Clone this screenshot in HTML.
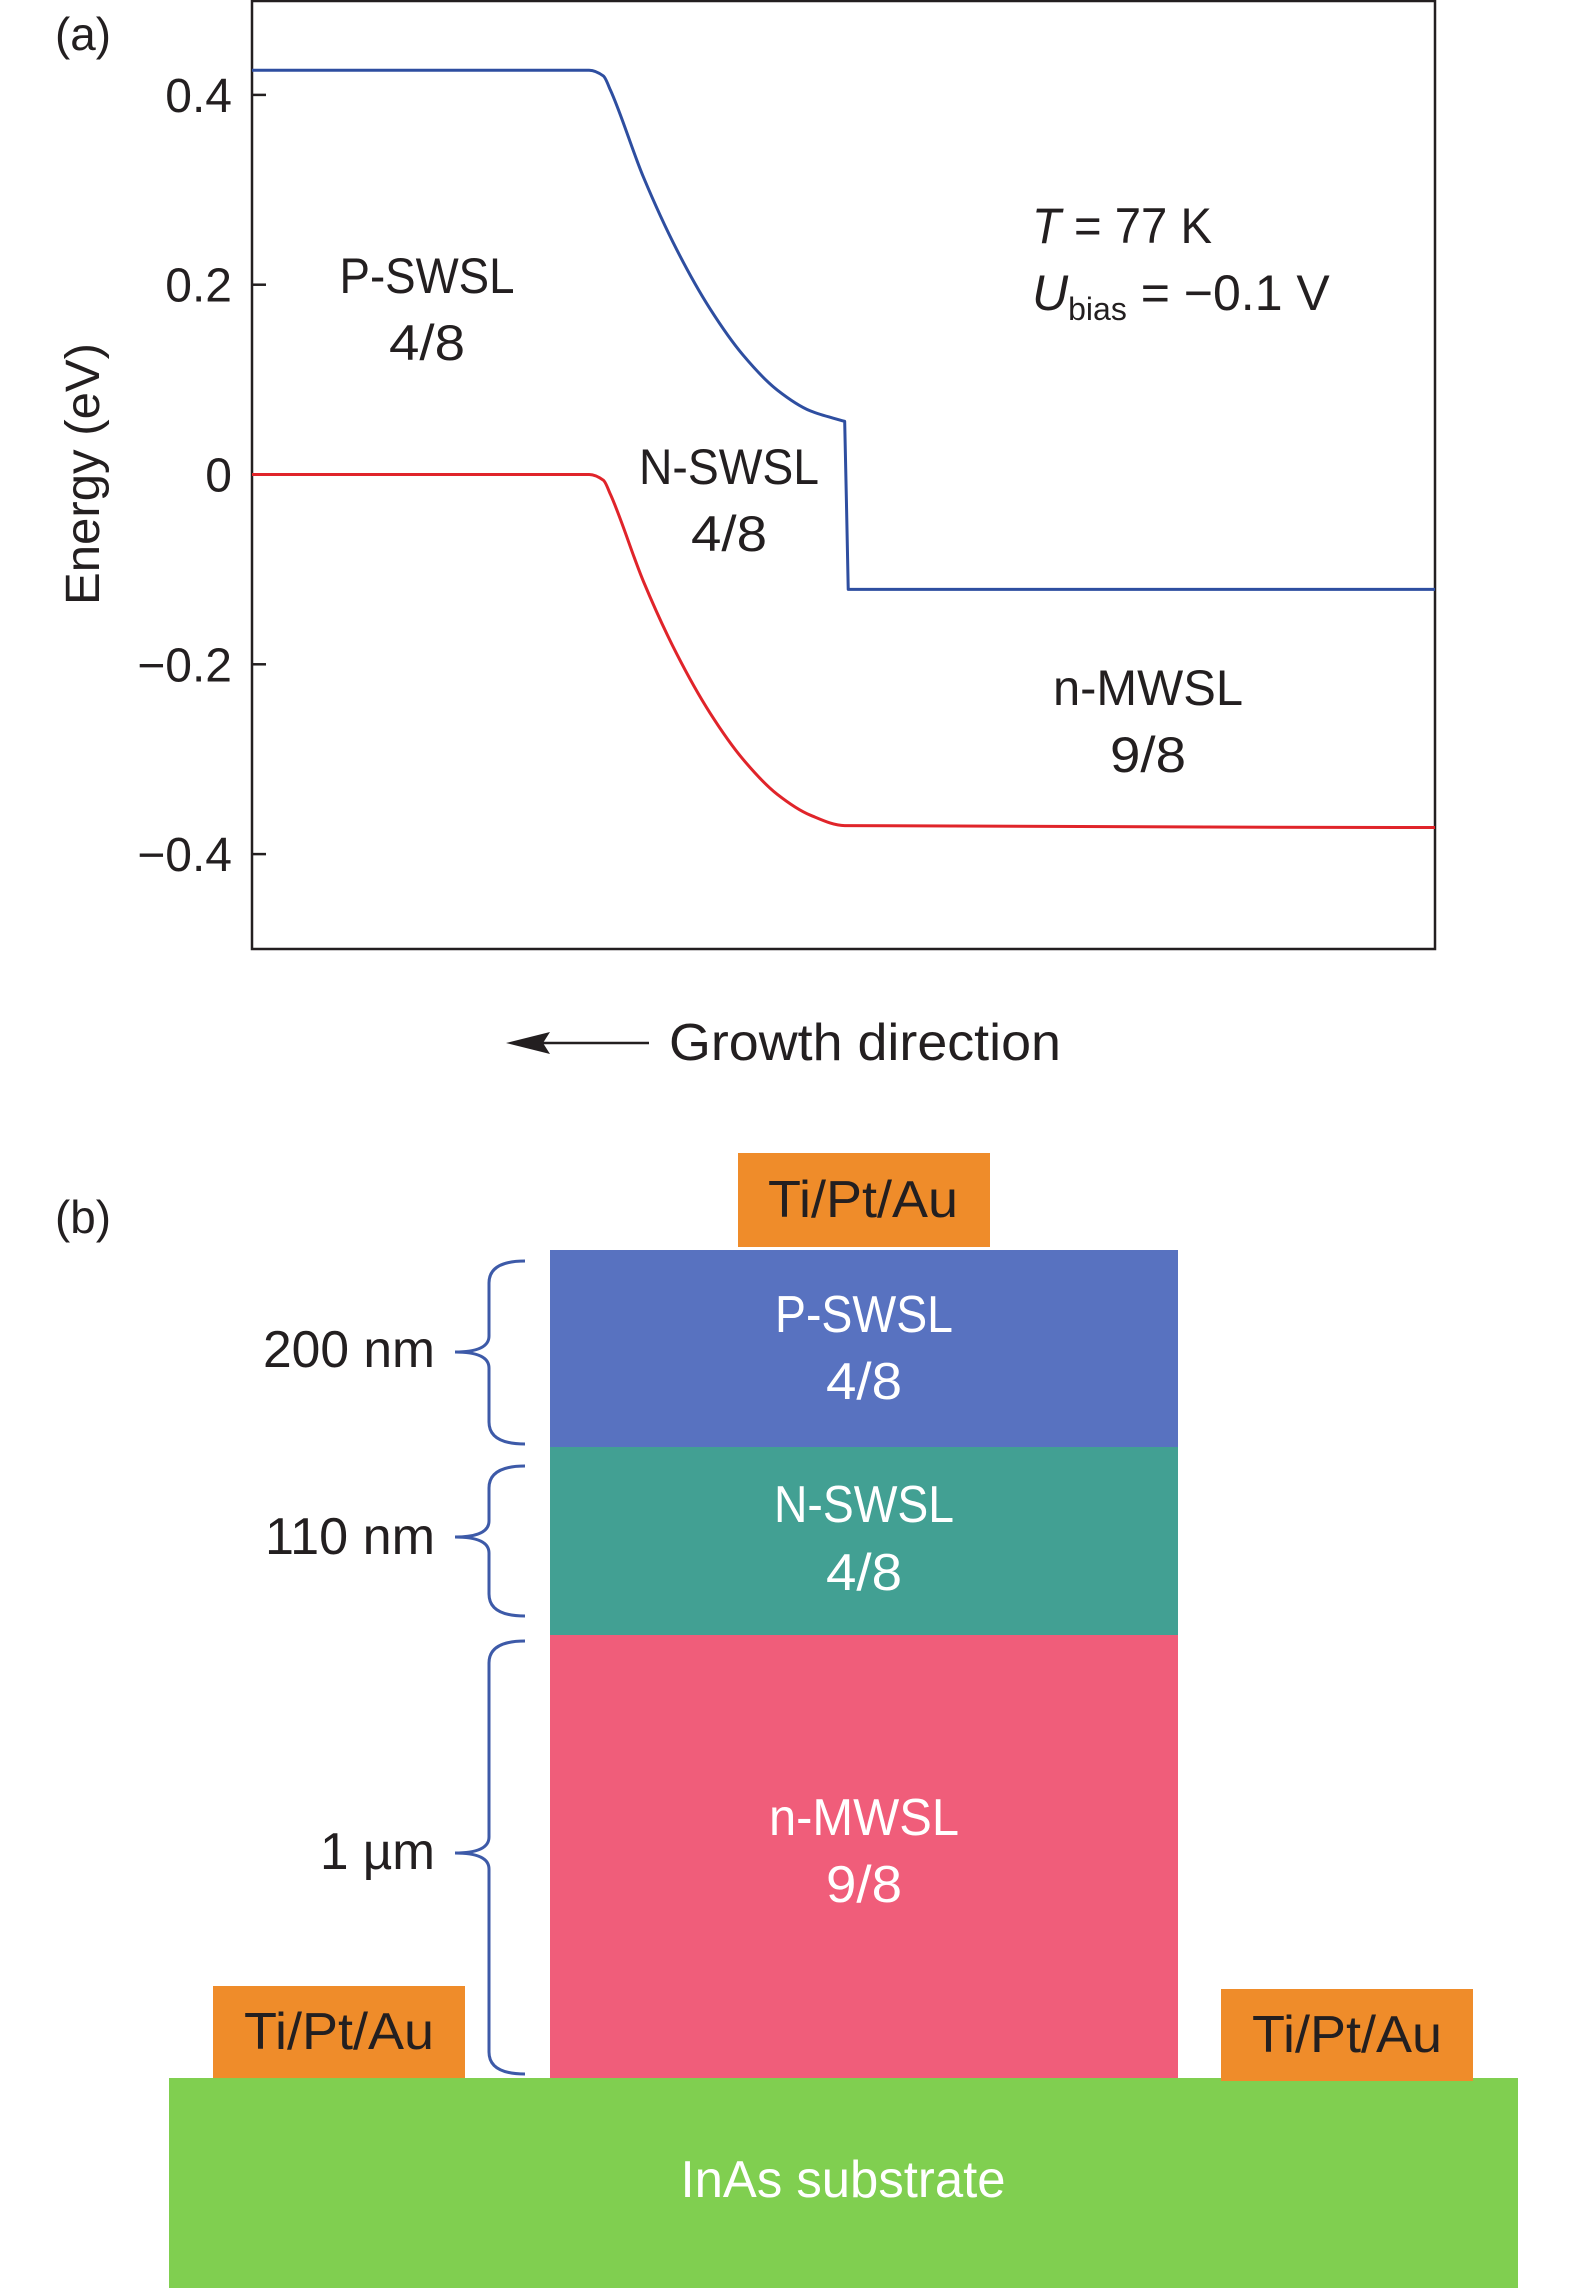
<!DOCTYPE html>
<html><head><meta charset="utf-8"><style>
html,body{margin:0;padding:0;background:#fff}
svg{display:block}
text{font-family:"Liberation Sans",sans-serif;fill:#231f20}
.w{fill:#fff}
</style></head><body>
<svg id="fig" width="1575" height="2288" viewBox="0 0 1575 2288" xmlns="http://www.w3.org/2000/svg">
<g id="panelA">
<text x="55" y="50" font-size="46" textLength="56" lengthAdjust="spacingAndGlyphs">(a)</text>
<rect x="252" y="1" width="1183" height="948" fill="none" stroke="#231f20" stroke-width="2.5"/>
<g id="yticks"></g>
<text transform="translate(99,474) rotate(-90)" text-anchor="middle" font-size="48" textLength="262" lengthAdjust="spacingAndGlyphs">Energy (eV)</text>
<g id="lines"></g>
<text x="427" y="293" text-anchor="middle" font-size="50" textLength="175" lengthAdjust="spacingAndGlyphs">P-SWSL</text>
<text x="427" y="360" text-anchor="middle" font-size="50" textLength="76" lengthAdjust="spacingAndGlyphs">4/8</text>
<text x="729" y="484" text-anchor="middle" font-size="50" textLength="180" lengthAdjust="spacingAndGlyphs">N-SWSL</text>
<text x="729" y="551" text-anchor="middle" font-size="50" textLength="76" lengthAdjust="spacingAndGlyphs">4/8</text>
<text x="1148" y="705" text-anchor="middle" font-size="50" textLength="190" lengthAdjust="spacingAndGlyphs">n-MWSL</text>
<text x="1148" y="772" text-anchor="middle" font-size="50" textLength="76" lengthAdjust="spacingAndGlyphs">9/8</text>
<text x="1032" y="243" font-size="50" textLength="180" lengthAdjust="spacingAndGlyphs"><tspan font-style="italic">T</tspan> = 77 K</text>
<text x="1032" y="310" font-size="50"><tspan font-style="italic">U</tspan><tspan font-size="32" dy="10">bias</tspan><tspan dy="-10"> = −0.1 V</tspan></text>
<line x1="649" y1="1043" x2="530" y2="1043" stroke="#231f20" stroke-width="2.5"/>
<polygon points="506,1043 550,1032 543,1043 550,1054" fill="#231f20"/>
<text x="669" y="1060" font-size="52" textLength="392" lengthAdjust="spacingAndGlyphs">Growth direction</text>
</g>
<g id="panelB">
<text x="55" y="1233" font-size="46" textLength="56" lengthAdjust="spacingAndGlyphs">(b)</text>
<rect x="738" y="1153" width="252" height="94" fill="#ef8c2a"/>
<text x="863" y="1217" text-anchor="middle" font-size="52" textLength="190" lengthAdjust="spacingAndGlyphs">Ti/Pt/Au</text>
<rect x="550" y="1250" width="628" height="197" fill="#5872c0"/>
<text x="864" y="1332" text-anchor="middle" font-size="52" class="w" textLength="178" lengthAdjust="spacingAndGlyphs">P-SWSL</text>
<text x="864" y="1399" text-anchor="middle" font-size="52" class="w" textLength="76" lengthAdjust="spacingAndGlyphs">4/8</text>
<rect x="550" y="1447" width="628" height="188" fill="#42a093"/>
<text x="864" y="1522" text-anchor="middle" font-size="52" class="w" textLength="180" lengthAdjust="spacingAndGlyphs">N-SWSL</text>
<text x="864" y="1590" text-anchor="middle" font-size="52" class="w" textLength="76" lengthAdjust="spacingAndGlyphs">4/8</text>
<rect x="550" y="1635" width="628" height="443" fill="#f05d7a"/>
<text x="864" y="1835" text-anchor="middle" font-size="52" class="w" textLength="190" lengthAdjust="spacingAndGlyphs">n-MWSL</text>
<text x="864" y="1902" text-anchor="middle" font-size="52" class="w" textLength="76" lengthAdjust="spacingAndGlyphs">9/8</text>
<rect x="169" y="2078" width="1349" height="210" fill="#80cf50"/>
<text x="843" y="2197" text-anchor="middle" font-size="52" class="w" textLength="325" lengthAdjust="spacingAndGlyphs">InAs substrate</text>
<rect x="213" y="1986" width="252" height="92" fill="#ef8c2a"/>
<text x="339" y="2049" text-anchor="middle" font-size="52" textLength="190" lengthAdjust="spacingAndGlyphs">Ti/Pt/Au</text>
<rect x="1221" y="1989" width="252" height="92" fill="#ef8c2a"/>
<text x="1347" y="2052" text-anchor="middle" font-size="52" textLength="190" lengthAdjust="spacingAndGlyphs">Ti/Pt/Au</text>
<g id="braces"></g>
<text x="435" y="1367" text-anchor="end" font-size="52" textLength="172" lengthAdjust="spacingAndGlyphs">200 nm</text>
<text x="435" y="1554" text-anchor="end" font-size="52" textLength="170" lengthAdjust="spacingAndGlyphs">110 nm</text>
<text x="435" y="1869" text-anchor="end" font-size="52" textLength="115" lengthAdjust="spacingAndGlyphs">1 µm</text>
</g>
</svg>
<script>
const tickValues = [0.4, 0.2, 0, -0.2, -0.4];
const tickLabels = ["0.4", "0.2", "0", "−0.2", "−0.4"];
const blueXPos = [0, 0.285, 0.297, 0.303, 0.331, 0.359, 0.387, 0.415, 0.444, 0.472, 0.501];
const blueValues = [0.426, 0.426, 0.420, 0.405, 0.313, 0.237, 0.175, 0.126, 0.089, 0.067, 0.056];
const blueStepX = [0.501, 0.5025, 0.504, 1];
const blueStepValues = [0.056, -0.030, -0.121, -0.121];
const redXPos = [0, 0.285, 0.297, 0.303, 0.331, 0.359, 0.387, 0.415, 0.444, 0.472, 0.501, 1];
const redValues = [0, 0, -0.006, -0.021, -0.113, -0.189, -0.251, -0.300, -0.337, -0.359, -0.370, -0.372];

const NS = "http://www.w3.org/2000/svg";
const X0 = 252, X1 = 1435, Y0 = 949, Y1 = 0;
function sx(f){ return X0 + f*(X1-X0); }
function sy(v){ return Y0 + (v+0.5)*(Y1-Y0); }

const yt = document.getElementById('yticks');
tickValues.forEach((v,i)=>{
  const l = document.createElementNS(NS,'line');
  l.setAttribute('x1',X0); l.setAttribute('x2',X0+14);
  l.setAttribute('y1',sy(v)); l.setAttribute('y2',sy(v));
  l.setAttribute('stroke','#231f20'); l.setAttribute('stroke-width','2.5');
  
  
  yt.appendChild(l);
  const t = document.createElementNS(NS,'text');
  t.setAttribute('x',232); t.setAttribute('y',sy(v)+17);
  t.setAttribute('text-anchor','end'); t.setAttribute('font-size','48');
  t.textContent = tickLabels[i];
  
  
  yt.appendChild(t);
});

function monotonePath(xs, vs){
  const p = xs.map((x,i)=>[sx(x), sy(vs[i])]);
  const n = p.length, d = [], m = new Array(n);
  for(let i=0;i<n-1;i++) d.push((p[i+1][1]-p[i][1])/(p[i+1][0]-p[i][0]));
  m[0]=d[0]; m[n-1]=d[n-2];
  for(let i=1;i<n-1;i++){
    if(d[i-1]*d[i]<=0) m[i]=0;
    else { const h0=p[i][0]-p[i-1][0], h1=p[i+1][0]-p[i][0];
      m[i]=3*(h0+h1)/((2*h1+h0)/d[i-1]+(h1+2*h0)/d[i]); }
  }
  let s='M'+p[0][0]+','+p[0][1];
  for(let i=0;i<n-1;i++){
    const h=(p[i+1][0]-p[i][0])/3;
    s+=' C'+(p[i][0]+h)+','+(p[i][1]+m[i]*h)+' '+(p[i+1][0]-h)+','+(p[i+1][1]-m[i+1]*h)+' '+p[i+1][0]+','+p[i+1][1];
  }
  return s;
}
function linePath(xs, vs){
  return xs.map((x,i)=>(i?'L':'M')+sx(x)+','+sy(vs[i])).join(' ');
}
const lg = document.getElementById('lines');
const bl = document.createElementNS(NS,'path');
bl.setAttribute('d', monotonePath(blueXPos, blueValues) + ' ' + linePath(blueStepX, blueStepValues).replace(/^M/,'L'));
bl.setAttribute('fill','none'); bl.setAttribute('stroke','#2e4ea0'); bl.setAttribute('stroke-width','3');
bl.setAttribute('stroke-linejoin','round');


lg.appendChild(bl);
const rl = document.createElementNS(NS,'path');
rl.setAttribute('d', monotonePath(redXPos, redValues));
rl.setAttribute('fill','none'); rl.setAttribute('stroke','#e0242a'); rl.setAttribute('stroke-width','3');


lg.appendChild(rl);

const br = document.getElementById('braces');
[[1261,1444,1352],[1466,1616,1537],[1641,2074,1853]].forEach(b=>{
  const [y1,y2,t]=b, vx=489, ex=525, tx=455;
  const d=`M${ex},${y1} Q${vx},${y1} ${vx},${y1+22} L${vx},${t-16} Q${vx},${t} ${tx},${t} Q${vx},${t} ${vx},${t+16} L${vx},${y2-22} Q${vx},${y2} ${ex},${y2}`;
  const p=document.createElementNS(NS,'path');
  p.setAttribute('d',d); p.setAttribute('fill','none'); p.setAttribute('stroke','#3d5aa8'); p.setAttribute('stroke-width','3');
  
  
  br.appendChild(p);
});
</script>
</body></html>
